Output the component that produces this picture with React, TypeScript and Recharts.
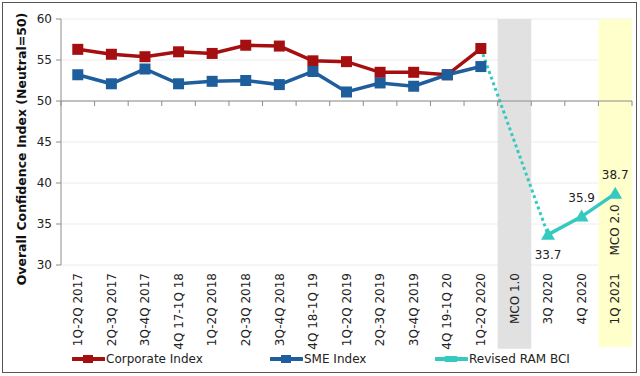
import React from 'react';
import { LineChart, Line, XAxis, YAxis, CartesianGrid, ReferenceArea, LabelList } from 'recharts';

const categories = [
  '1Q-2Q 2017', '2Q-3Q 2017', '3Q-4Q 2017', '4Q 17-1Q 18', '1Q-2Q 2018', '2Q-3Q 2018',
  '3Q-4Q 2018', '4Q 18-1Q 19', '1Q-2Q 2019', '2Q-3Q 2019', '3Q-4Q 2019', '4Q 19-1Q 20',
  '1Q-2Q 2020', 'MCO 1.0', '3Q 2020', '4Q 2020', '1Q 2021',
];
const corporateIndex = [56.3, 55.7, 55.4, 56.0, 55.8, 56.8, 56.7, 54.9, 54.8, 53.5, 53.5, 53.2, 56.4, null, null, null, null];
const smeIndex = [53.2, 52.1, 53.9, 52.1, 52.4, 52.5, 52.0, 53.6, 51.1, 52.2, 51.8, 53.2, 54.2, null, null, null, null];
// dotted bridge from the last index reading to the first revised BCI reading
const ramBridge = [null, null, null, null, null, null, null, null, null, null, null, null, 56.4, null, 33.7, null, null];
const ramBci = [null, null, null, null, null, null, null, null, null, null, null, null, null, null, 33.7, 35.9, 38.7];
const yTicks = [30, 35, 40, 45, 50, 55, 60];
const shaded = [{ cat: 'MCO 1.0', fill: '#e1e1e1' }, { cat: '1Q 2021', fill: '#ffffcc' }];

const RED = '#A50F10';
const BLUE = '#1F5E9C';
const TEAL = '#35C9C0';
const AXIS = '#8c8c8c';
const FONT = '"DejaVu Sans", Verdana, sans-serif';

const W = 640;
const H = 376;
const M = { top: 19, right: 8, left: 0, bottom: 31 };
const Y_AXIS_W = 61;
const X_AXIS_H = 80;
const PLOT_W = W - M.left - M.right - Y_AXIS_W;
const PLOT_H = H - M.top - M.bottom - X_AXIS_H;
const BAND = PLOT_W / categories.length;
// the category axis crosses the value axis at 50
const Y50 = M.top + ((60 - 50) / 30) * PLOT_H;

const data = categories.map((c, i) => ({
  idx: i,
  corporate: corporateIndex[i],
  sme: smeIndex[i],
  bridge: ramBridge[i],
  ram: ramBci[i],
}));

const SquareDot = (color: string) => (p: any) => {
  if (p.value == null || p.cx == null) return <g key={p.index} />;
  return <rect key={p.index} x={p.cx - 5.5} y={p.cy - 5.5} width={11} height={11} fill={color} />;
};

const TriangleDot = (p: any) => {
  if (p.value == null || p.cx == null) return <g key={p.index} />;
  return <path key={p.index} d={`M${p.cx},${p.cy - 7} L${p.cx + 7},${p.cy + 5} L${p.cx - 7},${p.cy + 5} Z`} fill={TEAL} />;
};

const RamLabel = (p: any) => {
  if (p.value == null) return null;
  const below = p.index === 14;
  return (
    <text x={p.x} y={below ? p.y + 20 : p.y - 19} textAnchor="middle" dy="0.35em" fontSize={12} fill="#222" fontFamily={FONT}>
      {p.value}
    </text>
  );
};

const XTick = (p: any) => {
  const { x, payload, index } = p;
  return (
    <g>
      <line x1={x - BAND / 2} x2={x + BAND / 2} y1={Y50} y2={Y50} stroke={AXIS} />
      <line x1={x - BAND / 2} x2={x - BAND / 2} y1={Y50} y2={Y50 + 5} stroke={AXIS} />
      {index === categories.length - 1 && <line x1={x + BAND / 2} x2={x + BAND / 2} y1={Y50} y2={Y50 + 5} stroke={AXIS} />}
      <text transform={`translate(${x},${M.top + PLOT_H + 8}) rotate(-90)`} textAnchor="end" dy="0.35em" fontSize={12} fill="#222" fontFamily={FONT}>
        {categories[payload.value]}
      </text>
    </g>
  );
};

const Mco2Label = (p: any) => {
  const vb = p.viewBox || {};
  const cx = vb.x + vb.width / 2;
  return (
    <text transform={`translate(${cx},230) rotate(-90)`} textAnchor="middle" dy="0.35em" fontSize={12} fill="#222" fontFamily={FONT}>
      MCO 2.0
    </text>
  );
};

const LegendItem = ({ left, color, label, marker }: { left: number; color: string; label: string; marker: 'square' | 'none' }) => (
  <div style={{ position: 'absolute', left, top: 351, height: 16, display: 'flex', alignItems: 'center', fontFamily: FONT, fontSize: 12, color: '#222' }}>
    <svg width={33} height={14}>
      <line x1={1} x2={32} y1={7} y2={7} stroke={color} strokeWidth={4} strokeLinecap="round" />
      {marker === 'square' && <rect x={11} y={3} width={10} height={8} fill={color} />}
      {marker === 'none' && <rect x={9} y={4} width={14} height={6} rx={2} fill={color} />}
    </svg>
    <span style={{ marginLeft: 1 }}>{label}</span>
  </div>
);

export default function App() {
  return (
    <div style={{ position: 'absolute', left: 0, top: 0, width: W, height: H, background: '#fff', fontFamily: FONT }}>
      <div style={{ position: 'absolute', left: 2, top: 2, width: 633, height: 369, border: '1px solid #555' }} />
      <LineChart width={W} height={H} data={data} margin={M} style={{ position: 'absolute', left: 0, top: 0 }}>
        <CartesianGrid vertical={false} horizontal stroke="#ececec" />
        {shaded.map((s, i) => {
          const k = categories.indexOf(s.cat);
          return (
            <ReferenceArea
              key={s.cat}
              x1={k - 0.5}
              x2={k + 0.5}
              y1={i === 0 ? 19.8 : 20}
              y2={60}
              ifOverflow="visible"
              fill={s.fill}
              fillOpacity={1}
              stroke="none"
              label={i === 1 ? Mco2Label : undefined}
            />
          );
        })}
        <XAxis
          dataKey="idx"
          type="number"
          domain={[-0.5, categories.length - 0.5]}
          ticks={categories.map((_, i) => i)}
          height={X_AXIS_H}
          interval={0}
          axisLine={false}
          tickLine={false}
          tick={XTick}
        />
        <YAxis
          width={Y_AXIS_W}
          domain={[30, 60]}
          ticks={yTicks}
          axisLine={{ stroke: AXIS }}
          tickLine={{ stroke: AXIS }}
          tickSize={5}
          tickMargin={4}
          tick={{ fontSize: 12, fill: '#222', fontFamily: FONT }}
          label={{ value: 'Overall Confidence Index (Neutral=50)', angle: -90, position: 'insideLeft', dx: 17, dy: 7, style: { textAnchor: 'middle', fontSize: 12.5, fontWeight: 'bold', fill: '#111', fontFamily: FONT } }}
        />
        <Line dataKey="corporate" stroke={RED} strokeWidth={3.5} dot={SquareDot(RED)} isAnimationActive={false} />
        <Line dataKey="sme" stroke={BLUE} strokeWidth={3.5} dot={SquareDot(BLUE)} isAnimationActive={false} />
        <Line dataKey="bridge" stroke={TEAL} strokeWidth={3} strokeDasharray="3 3" connectNulls dot={false} isAnimationActive={false} />
        <Line dataKey="ram" stroke={TEAL} strokeWidth={3.5} dot={TriangleDot} isAnimationActive={false}>
          <LabelList dataKey="ram" content={RamLabel} />
        </Line>
      </LineChart>
      <LegendItem left={72} color={RED} label="Corporate Index" marker="square" />
      <LegendItem left={270} color={BLUE} label="SME Index" marker="square" />
      <LegendItem left={435} color={TEAL} label="Revised RAM BCI" marker="none" />
    </div>
  );
}
